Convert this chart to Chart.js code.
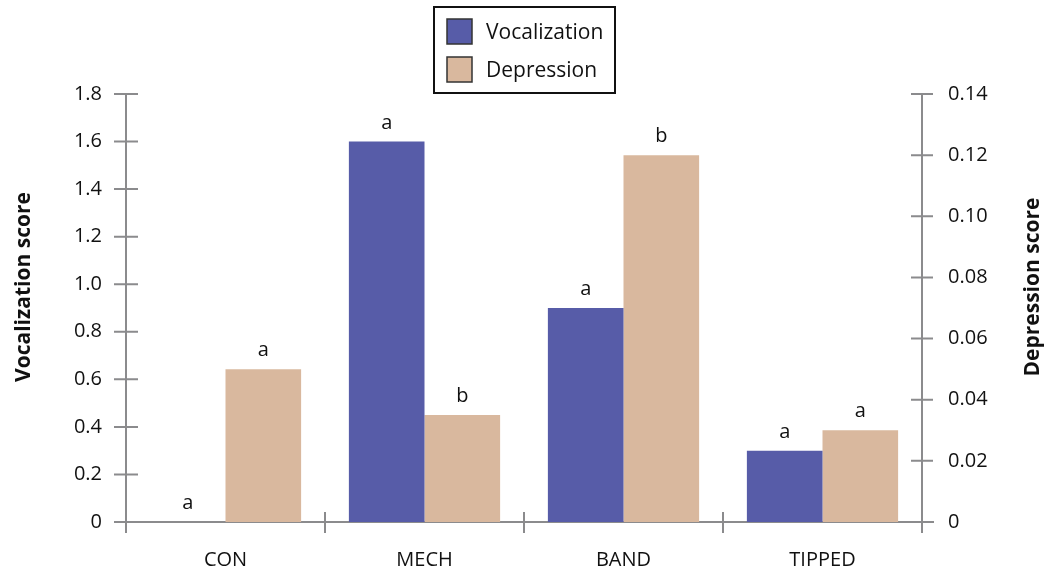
<!DOCTYPE html>
<html>
<head>
<meta charset="utf-8">
<script src="https://cdn.jsdelivr.net/npm/chart.js@4.4.1/dist/chart.umd.min.js"></script>
<style>
  html, body { margin: 0; padding: 0; background: #ffffff; }
  #wrap { width: 1053px; height: 574px; }
</style>
</head>
<body>
<div id="wrap"><canvas id="chart" width="1053" height="574"></canvas></div>
<script>
// Treatment groups along the x axis
const categories = ['CON', 'MECH', 'BAND', 'TIPPED'];
// Mean scores per treatment
const vocalization = [0, 1.6, 0.9, 0.3];
const depression = [0.05, 0.035, 0.12, 0.03];
// Significance letters printed above each bar
const vocalizationLetters = ['a', 'a', 'a', 'a'];
const depressionLetters = ['a', 'b', 'b', 'a'];
// Axis tick values
const leftTicks = [0, 0.2, 0.4, 0.6, 0.8, 1.0, 1.2, 1.4, 1.6, 1.8];
const rightTicks = [0, 0.02, 0.04, 0.06, 0.08, 0.10, 0.12, 0.14];

const FONT = "'Open Sans', 'Noto Sans', sans-serif";
const AXIS = '#8b8b8d';
const VOC_COLOR = '#575ca8';
const DEP_COLOR = '#d9b89e';

// Axis lines with ticks that cross the axis, drawn under the bars
const axesPlugin = {
  id: 'crossAxes',
  beforeDatasetsDraw(chart) {
    const { ctx, chartArea, scales } = chart;
    const yL = scales.yL, yR = scales.yR, x = scales.x;
    const base = yL.getPixelForValue(0);
    ctx.save();
    ctx.strokeStyle = AXIS;
    ctx.lineWidth = 2;
    ctx.beginPath();
    // vertical axes
    ctx.moveTo(chartArea.left, yL.getPixelForValue(leftTicks[leftTicks.length - 1]));
    ctx.lineTo(chartArea.left, base + 11);
    ctx.moveTo(chartArea.right, yR.getPixelForValue(rightTicks[rightTicks.length - 1]));
    ctx.lineTo(chartArea.right, base + 11);
    // horizontal baseline
    ctx.moveTo(chartArea.left - 12, base);
    ctx.lineTo(chartArea.right + 12, base);
    leftTicks.forEach(v => {
      const p = yL.getPixelForValue(v);
      ctx.moveTo(chartArea.left - 12, p);
      ctx.lineTo(chartArea.left + 12, p);
    });
    rightTicks.forEach(v => {
      const p = yR.getPixelForValue(v);
      ctx.moveTo(chartArea.right - 11, p);
      ctx.lineTo(chartArea.right + 11, p);
    });
    // category boundaries
    const step = (chartArea.right - chartArea.left) / categories.length;
    for (let i = 1; i < categories.length; i++) {
      const p = x.getPixelForValue(i) - step / 2;
      ctx.moveTo(p, base - 10);
      ctx.lineTo(p, base + 11);
    }
    ctx.stroke();
    ctx.restore();
  }
};

// Letters above bars, boxed legend and rotated axis titles
const annotatePlugin = {
  id: 'annotate',
  afterDatasetsDraw(chart) {
    const { ctx } = chart;
    ctx.save();
    ctx.fillStyle = '#111111';
    ctx.font = `20px ${FONT}`;
    ctx.textAlign = 'center';
    ctx.textBaseline = 'alphabetic';
    const letterSets = [vocalizationLetters, depressionLetters];
    chart.data.datasets.forEach((ds, di) => {
      const meta = chart.getDatasetMeta(di);
      meta.data.forEach((bar, i) => {
        ctx.fillText(letterSets[di][i], bar.x, bar.y - 13);
      });
    });

    // legend
    ctx.strokeStyle = '#111111';
    ctx.lineWidth = 2;
    ctx.strokeRect(434, 7, 181, 86);
    chart.data.datasets.forEach((ds, di) => {
      const top = 19 + di * 38;
      ctx.fillStyle = ds.backgroundColor;
      ctx.fillRect(447, top, 25, 25);
      ctx.strokeStyle = '#333333';
      ctx.lineWidth = 1.5;
      ctx.strokeRect(447, top, 25, 25);
      ctx.fillStyle = '#111111';
      ctx.font = `21px ${FONT}`;
      ctx.textAlign = 'left';
      ctx.textBaseline = 'middle';
      ctx.fillText(ds.label, 486, top + 14);
    });

    // axis titles
    ctx.font = `bold 21px ${FONT}`;
    ctx.textAlign = 'center';
    ctx.textBaseline = 'middle';
    ctx.fillStyle = '#111111';
    ctx.save();
    ctx.translate(24, 287);
    ctx.rotate(-Math.PI / 2);
    ctx.fillText('Vocalization score', 0, 0);
    ctx.restore();
    ctx.save();
    ctx.translate(1033, 287);
    ctx.rotate(-Math.PI / 2);
    ctx.fillText('Depression score', 0, 0);
    ctx.restore();
    ctx.restore();
  }
};

const fixedWidth = w => scale => { scale.width = w; };

new Chart(document.getElementById('chart'), {
  type: 'bar',
  data: {
    labels: categories,
    datasets: [
      { label: 'Vocalization', data: vocalization, backgroundColor: VOC_COLOR, yAxisID: 'yL' },
      { label: 'Depression', data: depression, backgroundColor: DEP_COLOR, yAxisID: 'yR' }
    ]
  },
  options: {
    responsive: false,
    animation: false,
    layout: { padding: { top: 94, left: 0, right: 0, bottom: 0 } },
    datasets: { bar: { barPercentage: 1, categoryPercentage: 0.76 } },
    plugins: { legend: { display: false }, tooltip: { enabled: false } },
    scales: {
      x: {
        grid: { display: false },
        border: { display: false },
        ticks: { color: '#111111', font: { family: FONT, size: 20 }, padding: 18 },
        afterFit(scale) { scale.height = 52; }
      },
      yL: {
        position: 'left',
        min: 0, max: 1.8,
        grid: { display: false },
        border: { display: false },
        afterBuildTicks(scale) { scale.ticks = leftTicks.map(v => ({ value: v })); },
        ticks: {
          color: '#111111',
          font: { family: FONT, size: 20 },
          padding: 16,
          callback: v => (v === 0 ? '0' : Number(v).toFixed(1))
        },
        afterFit: fixedWidth(126)
      },
      yR: {
        position: 'right',
        min: 0, max: 0.14,
        grid: { display: false },
        border: { display: false },
        afterBuildTicks(scale) { scale.ticks = rightTicks.map(v => ({ value: v })); },
        ticks: {
          color: '#111111',
          font: { family: FONT, size: 20 },
          padding: 18,
          callback: v => (v === 0 ? '0' : Number(v).toFixed(2))
        },
        afterFit: fixedWidth(131)
      }
    }
  },
  plugins: [axesPlugin, annotatePlugin]
});
</script>
</body>
</html>
